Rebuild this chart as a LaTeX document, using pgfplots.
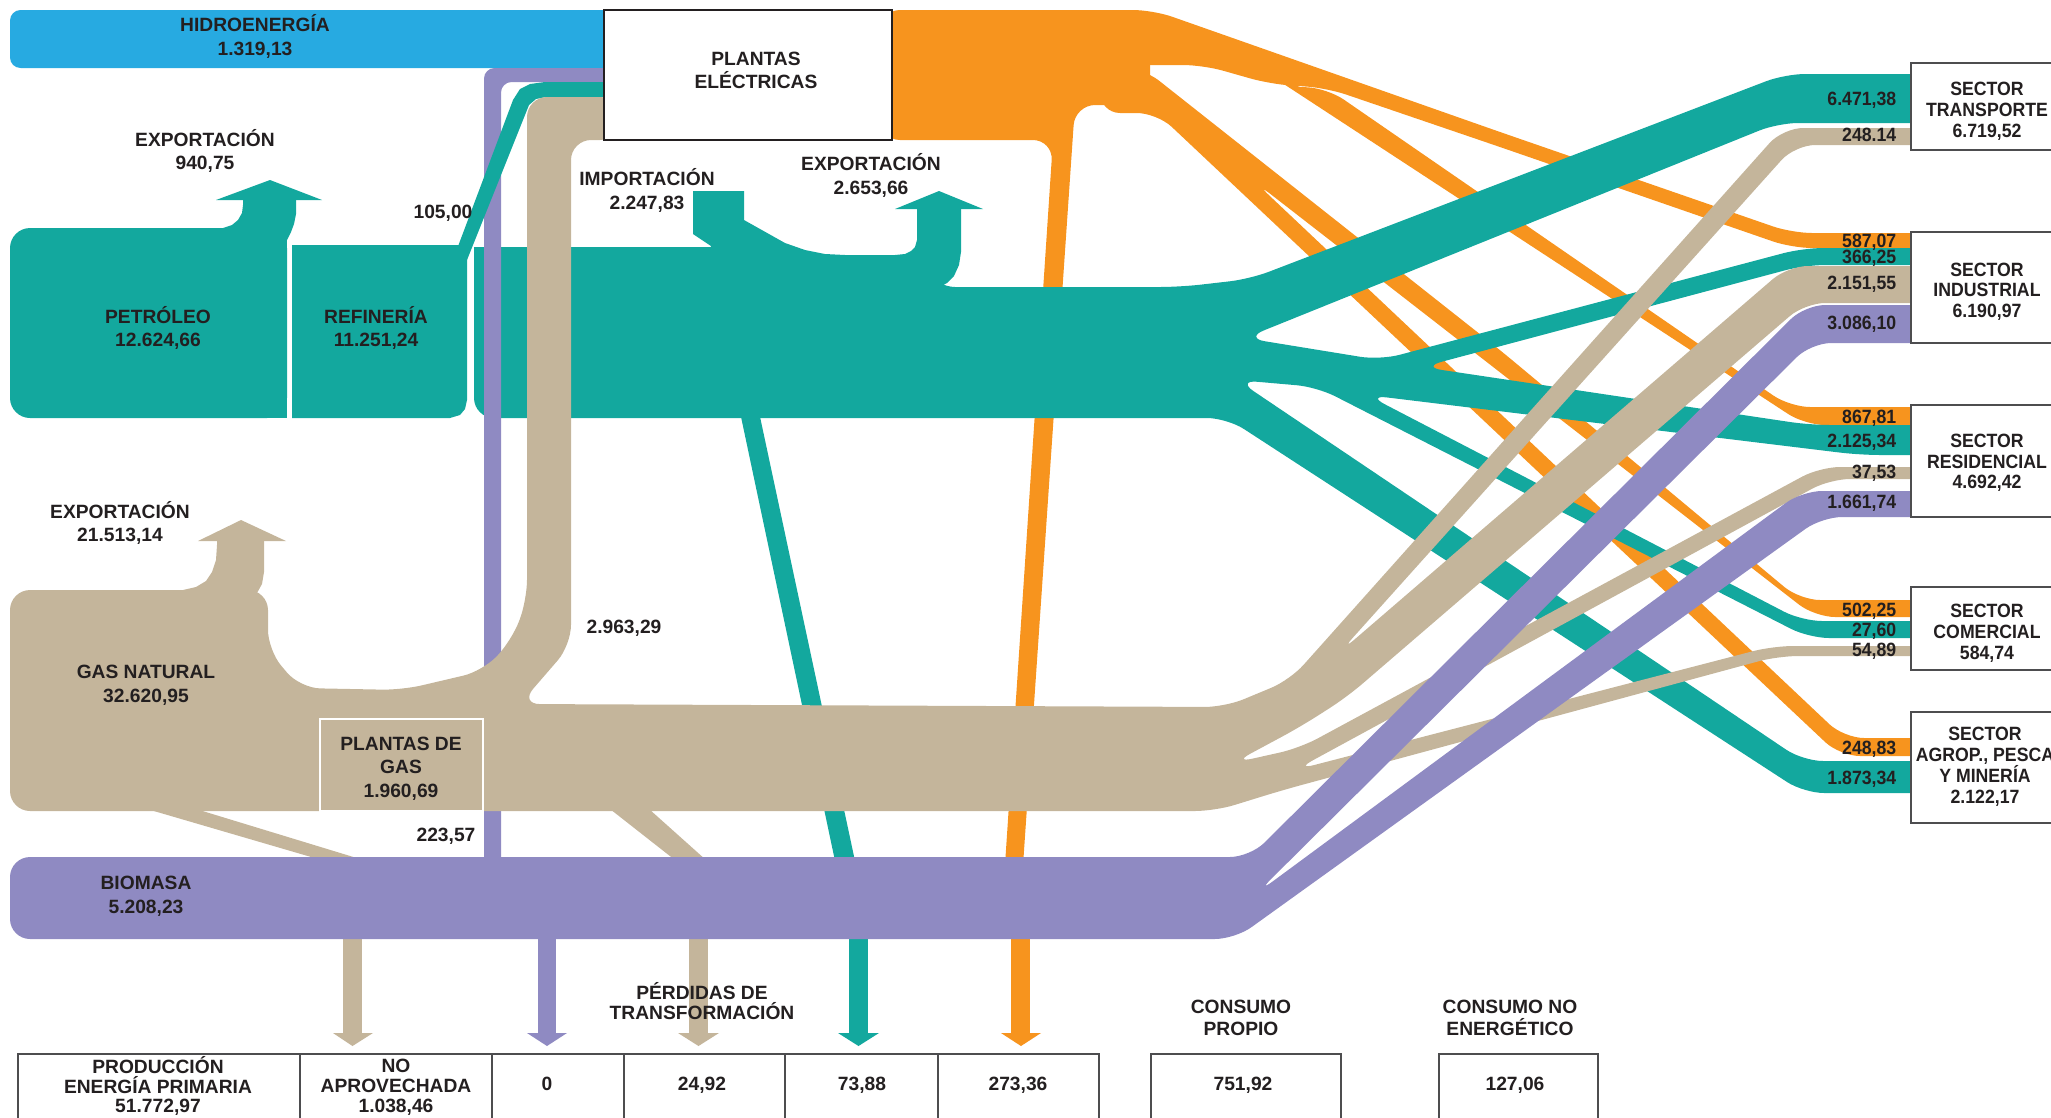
\documentclass[border=0pt]{standalone}
\usepackage{pgfplots}
\pgfplotsset{compat=1.18}
\usepackage{fontspec}
\setmainfont{Liberation Sans}
\newfontfamily\nar[FakeStretch=0.92]{Liberation Sans}
\definecolor{cteal}{HTML}{13A89E}
\definecolor{corange}{HTML}{F7941E}
\definecolor{ctan}{HTML}{C4B59B}
\definecolor{cpurple}{HTML}{8F8AC2}
\definecolor{cblue}{HTML}{27AAE1}
\definecolor{ctext}{HTML}{231F20}
\definecolor{cbox}{HTML}{4D4D4F}
\newcommand\lf{\fontsize{5.45}{6.4}\selectfont\bfseries}
\newcommand\nf{\nar\fontsize{5.45}{6.4}\selectfont\bfseries}
\newcommand\Lc[3]{\node[anchor=base,inner sep=0pt,text=ctext,font=\lf] at (axis cs:#1,#2) {#3};}
\newcommand\Ln[3]{\node[anchor=base,inner sep=0pt,text=ctext,font=\nf] at (axis cs:#1,#2) {#3};}
\newcommand\Lr[3]{\node[anchor=base east,inner sep=0pt,text=ctext,font=\nf] at (axis cs:#1,#2) {#3};}
\pgfplotsset{
  R/.style={draw=none, fill=#1, rounded corners=5.7pt},
  Rs/.style={draw=none, fill=#1, rounded corners=3pt},
  S/.style={draw=none, fill=#1},
  B/.style={draw=cbox, fill=white, line width=0.55pt},
}
\begin{document}
\begin{tikzpicture}
\begin{axis}[scale only axis, width=581.46pt, height=316.67pt,
  xmin=0, xmax=2051, ymin=0, ymax=1117, y dir=reverse, hide axis, clip=true]
% ---------------- HIDRO
\addplot[Rs=cblue] coordinates {(300,10)(640,10)(640,68)(10,68)(10,10)(300,10)};
% ---------------- ORANGE
\addplot[R=corange] coordinates {(960,10)(1150,10)(1150,105)(1075,105)(1022,880)(1004,880)(1053,140)(880,140)(880,10)(960,10)};
\addplot[R=corange] coordinates {(1100,40)(1100,10)(1153,10)(1500,132)(1792,233)(2000,233)(2045,240.5)(2000,248)(1792,248)(1500,147)(1327,88)(1270,84)(1203,65)(1143,65)(1100,65)(1100,40)};
\addplot[R=corange] coordinates {(1300,87)(1327,88)(1790,407)(2000,407)(2045,416)(2000,425)(1805,425)(1270,75)(1300,87)};
\addplot[R=corange] coordinates {(1100,90)(1100,68)(1143,68)(1500,350)(1800,600)(2000,600)(2045,608.5)(2000,617)(1815,617)(1255,182)(1844,738)(2000,738)(2045,747)(2000,756)(1840,756)(1157,113)(1100,113)(1100,90)};
\addplot[S=corange] coordinates {(1011,930)(1030,930)(1030,1034)(1011,1034)};
\addplot[S=corange] coordinates {(1001,1033)(1041,1033)(1021,1046)};
% ---------------- TEAL
\addplot[R=cteal] coordinates {(150,228)(287,228)(287,418)(10,418)(10,228)(150,228)};
\addplot[S=cteal] coordinates {(240,228)(287,228)(287,418)(240,418)};
\addplot[S=cteal] coordinates {(215,229)(223,228)(232,225)(238,220)(242,213)(243,205)(243,198)(296,198)(296,214)(294,224)(291,232)(287,240)(283,246)(215,246)};
\addplot[S=cteal] coordinates {(216,200)(322,200)(270,180)};
\addplot[S=cteal] coordinates {(292,245)(467,245)(467,400)(465,409)(460,415)(450,418)(292,418)};
\addplot[R=cteal] coordinates {(600,247)(770,247)(800,255)(915,255)(935,287)(1180,287)(1250,279)(1785,74)(2000,74)(2045,98.5)(2000,123)(1778,123)(1245,338)(1380,360)(1803,248)(2000,248)(2045,256.5)(2000,265)(1805,265)(1422,367)(1810,425)(2000,425)(2045,440)(2000,455)(1860,455)(1367,395)(1802,621)(2000,621)(2045,629.5)(2000,638)(1809,638)(1317,387)(1237,380)(1803,761)(2000,761)(2045,777)(2000,793)(1804,793)(1227,418)(474,418)(474,247)(600,247)};
\addplot[S=cteal] coordinates {(474,247)(500,247)(500,270)(474,270)};
\addplot[S=cteal] coordinates {(693,191)(744,191)(744,220)(785,243)(805,250)(825,254)(845,255)(845,290)(700,290)(711,246)(693,234)};
\addplot[S=cteal] coordinates {(880,255)(895,255)(905,254)(911,251)(915,247)(917,240)(917,206)(961,206)(961,252)(959,265)(954,276)(947,283)(938,288)(880,288)};
\addplot[S=cteal] coordinates {(895,209)(983,209)(939,191)};
\addplot[S=cteal] coordinates {(740,412)(759,412)(858,875)(838,875)};
\addplot[S=cteal] coordinates {(849,930)(868,930)(868,1034)(849,1034)};
\addplot[S=cteal] coordinates {(838,1033)(879,1033)(858.5,1046)};
% ---------------- PURPLE vertical
\addplot[Rs=cpurple] coordinates {(550,68)(640,68)(640,82)(501,82)(501,880)(484,880)(484,68)(550,68)};
% teal 105
\addplot[S=cteal] coordinates {(451,265)(513,100)(520,89)(530,84)(545,82)(620,82)(620,97)(546,97)(536,99)(529,105)(465,265)};
% ---------------- TAN
\addplot[R=ctan] coordinates {(100,590)(268,590)(268,650)(300,688)(402,690)(483,671)(512,640)(527,600)(527,97)(620,97)(620,140)(571,140)(571,645)(520,704)(1225,707)(1290,680)(1783,128)(2000,128)(2045,136.5)(2000,145)(1795,145)(1340,652)(1788,266)(2000,266)(2045,284.5)(2000,303)(1805,303)(1347,697)(1300,727)(1233,763)(1300,748)(1820,467)(2000,467)(2045,473)(2000,479)(1830,479)(1295,770)(1773,646)(2000,646)(2045,651)(2000,656)(1778,656)(1283,790)(1215,811)(10,811)(10,590)(100,590)};
\addplot[S=ctan] coordinates {(150,591)(183,590)(196,587)(206,581)(212,572)(216,560)(217,545)(217,538)(264,538)(264,572)(262,584)(257,593)(249,599)(240,602)(150,602)};
\addplot[S=ctan] coordinates {(198,541)(286,541)(241,520)};
\addplot[S=ctan] coordinates {(147,809)(196,809)(360,859)(318,859)};
\addplot[S=ctan] coordinates {(343,930)(362,930)(362,1034)(343,1034)};
\addplot[S=ctan] coordinates {(333,1033)(373,1033)(352.5,1046)};
\addplot[S=ctan] coordinates {(610,809)(649,809)(706,860)(675,860)};
\addplot[S=ctan] coordinates {(689,930)(708,930)(708,1034)(689,1034)};
\addplot[S=ctan] coordinates {(678,1033)(719,1033)(698.5,1046)};
% ---------------- BIOMASA
\addplot[R=cpurple] coordinates {(600,857)(1250,857)(1805,305)(2000,305)(2045,324)(2000,343)(1811,343)(1257,893)(1802,491)(2000,491)(2045,504)(2000,517)(1822,517)(1235,939)(10,939)(10,857)(600,857)};
\addplot[S=cpurple] coordinates {(538,930)(556,930)(556,1034)(538,1034)};
\addplot[S=cpurple] coordinates {(527,1033)(567,1033)(547,1046)};
% ---------------- BOXES
\addplot[draw=ctext, fill=white, line width=0.5pt] coordinates {(604,10)(892,10)(892,140)(604,140)} -- cycle;
\addplot[draw=white, fill=ctan, line width=0.6pt] coordinates {(320,719)(483,719)(483,811)(320,811)} -- cycle;
\addplot[B] coordinates {(1911,63)(2070,63)(2070,150)(1911,150)} -- cycle;
\addplot[B] coordinates {(1911,232)(2070,232)(2070,343)(1911,343)} -- cycle;
\addplot[B] coordinates {(1911,405)(2070,405)(2070,517)(1911,517)} -- cycle;
\addplot[B] coordinates {(1911,587)(2070,587)(2070,670)(1911,670)} -- cycle;
\addplot[B] coordinates {(1911,712)(2070,712)(2070,823)(1911,823)} -- cycle;
\addplot[B] coordinates {(18,1054)(1099,1054)(1099,1140)(18,1140)} -- cycle;
\addplot[B] coordinates {(1151,1054)(1341,1054)(1341,1140)(1151,1140)} -- cycle;
\addplot[B] coordinates {(1439,1054)(1598,1054)(1598,1140)(1439,1140)} -- cycle;
\addplot[draw=cbox, line width=0.55pt] coordinates {(300,1054)(300,1140)};
\addplot[draw=cbox, line width=0.55pt] coordinates {(492,1054)(492,1140)};
\addplot[draw=cbox, line width=0.55pt] coordinates {(624,1054)(624,1140)};
\addplot[draw=cbox, line width=0.55pt] coordinates {(785,1054)(785,1140)};
\addplot[draw=cbox, line width=0.55pt] coordinates {(938,1054)(938,1140)};
% ---------------- LABELS
\Lc{255}{31.5}{HIDROENERGÍA}
\Lc{255}{55.5}{1.319,13}
\Lc{756}{65.5}{PLANTAS}
\Lc{756}{88.5}{ELÉCTRICAS}
\Lc{205}{146.5}{EXPORTACIÓN}
\Lc{205}{169.5}{940,75}
\Lc{443}{218.5}{105,00}
\Lc{647}{185.5}{IMPORTACIÓN}
\Lc{647}{209.5}{2.247,83}
\Lc{871}{170.5}{EXPORTACIÓN}
\Lc{871}{194.5}{2.653,66}
\Lc{158}{323.5}{PETRÓLEO}
\Lc{158}{346.5}{12.624,66}
\Lc{376}{323.5}{REFINERÍA}
\Lc{376}{346.5}{11.251,24}
\Lc{120}{518.5}{EXPORTACIÓN}
\Lc{120}{541.5}{21.513,14}
\Lc{146}{678.5}{GAS NATURAL}
\Lc{146}{702.5}{32.620,95}
\Lc{401}{750.5}{PLANTAS DE}
\Lc{401}{773.5}{GAS}
\Lc{401}{797.5}{1.960,69}
\Lc{624}{633.5}{2.963,29}
\Lc{446}{841.5}{223,57}
\Lc{146}{889.5}{BIOMASA}
\Lc{146}{913.5}{5.208,23}
% sectors
\Ln{1987}{95.5}{SECTOR}
\Ln{1987}{116.5}{TRANSPORTE}
\Ln{1987}{137.5}{6.719,52}
\Ln{1987}{276.5}{SECTOR}
\Ln{1987}{296.5}{INDUSTRIAL}
\Ln{1987}{317.5}{6.190,97}
\Ln{1987}{447.5}{SECTOR}
\Ln{1987}{468.5}{RESIDENCIAL}
\Ln{1987}{488.5}{4.692,42}
\Ln{1987}{617.5}{SECTOR}
\Ln{1987}{638.5}{COMERCIAL}
\Ln{1987}{659.5}{584,74}
\Ln{1985}{740.5}{SECTOR}
\Ln{1985}{761.5}{AGROP., PESCA}
\Ln{1985}{782.5}{Y MINERÍA}
\Ln{1985}{803.5}{2.122,17}
% band values
\Lr{1897}{105.5}{6.471,38}
\Lr{1897}{141.5}{248.14}
\Lr{1897}{247.5}{587,07}
\Lr{1897}{263.5}{366,25}
\Lr{1897}{289.5}{2.151,55}
\Lr{1897}{329.5}{3.086,10}
\Lr{1897}{423.5}{867,81}
\Lr{1897}{447.5}{2.125,34}
\Lr{1897}{478.5}{37,53}
\Lr{1897}{508.5}{1.661,74}
\Lr{1897}{616.5}{502,25}
\Lr{1897}{636.5}{27,60}
\Lr{1897}{656.5}{54,89}
\Lr{1897}{754.5}{248,83}
\Lr{1897}{784.5}{1.873,34}
% bottom
\Lc{702}{999.5}{PÉRDIDAS DE}
\Lc{702}{1019.5}{TRANSFORMACIÓN}
\Lc{1241}{1013.5}{CONSUMO}
\Lc{1241}{1035.5}{PROPIO}
\Lc{1510}{1013.5}{CONSUMO NO}
\Lc{1510}{1035.5}{ENERGÉTICO}
\Lc{158}{1073.5}{PRODUCCIÓN}
\Lc{158}{1093.5}{ENERGÍA PRIMARIA}
\Lc{158}{1112.5}{51.772,97}
\Lc{396}{1072.5}{NO}
\Lc{396}{1092.5}{APROVECHADA}
\Lc{396}{1112.5}{1.038,46}
\Lc{547}{1090.5}{0}
\Lc{702}{1090.5}{24,92}
\Lc{862}{1090.5}{73,88}
\Lc{1018}{1090.5}{273,36}
\Lc{1243}{1090.5}{751,92}
\Lc{1515}{1090.5}{127,06}
\end{axis}
\pgfresetboundingbox
\path[use as bounding box] (current axis.south west) rectangle (current axis.north east);
\end{tikzpicture}
\end{document}
